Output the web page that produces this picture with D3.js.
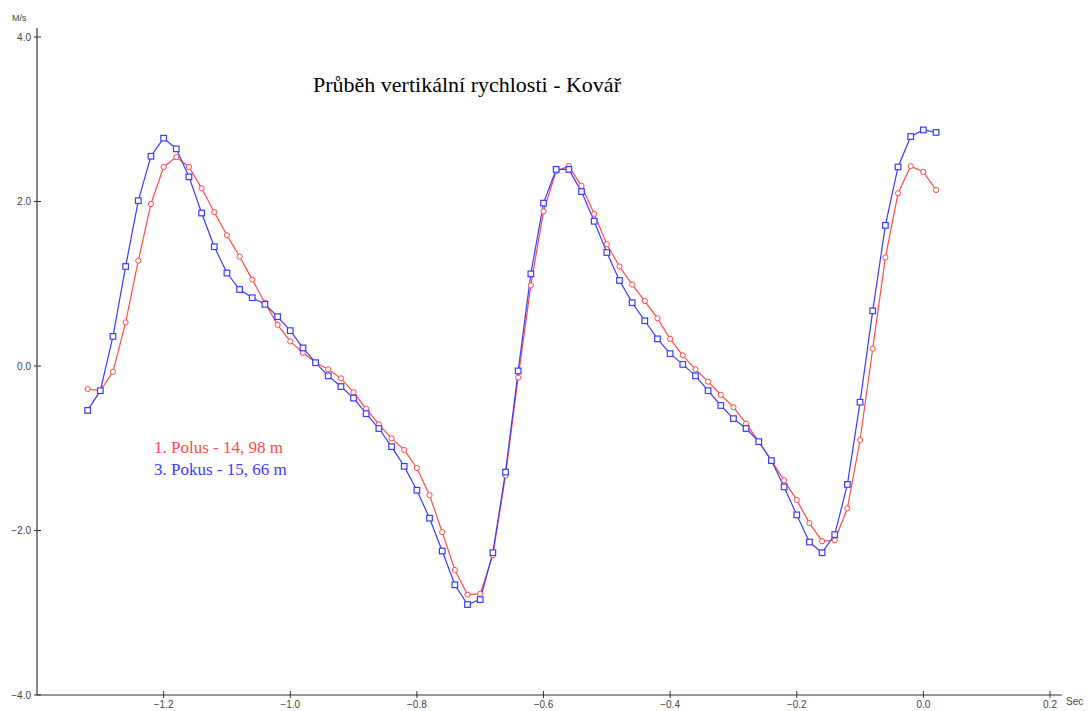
<!DOCTYPE html>
<html><head><meta charset="utf-8">
<script src="https://cdn.jsdelivr.net/npm/d3@7"></script>
<style>body{margin:0;background:#fff}svg{display:block}</style>
</head><body>
<svg id="c" width="1089" height="711"></svg>
<script>
const times = d3.range(69).map(i => +(-1.32 + i*0.02).toFixed(2));
const polus = [-0.28,-0.30,-0.07,0.53,1.28,1.97,2.42,2.54,2.42,2.16,1.87,1.59,1.33,1.05,0.77,0.50,0.30,0.16,0.04,-0.04,-0.15,-0.32,-0.52,-0.71,-0.88,-1.02,-1.24,-1.57,-2.02,-2.48,-2.78,-2.77,-2.30,-1.33,-0.14,0.98,1.88,2.37,2.43,2.19,1.85,1.48,1.21,0.99,0.79,0.58,0.33,0.13,-0.04,-0.19,-0.35,-0.50,-0.70,-0.92,-1.15,-1.39,-1.63,-1.91,-2.13,-2.12,-1.73,-0.90,0.21,1.32,2.10,2.43,2.36,2.14];
const pokus = [-0.54,-0.30,0.36,1.21,2.01,2.55,2.77,2.64,2.30,1.86,1.45,1.13,0.93,0.83,0.75,0.60,0.43,0.22,0.04,-0.12,-0.25,-0.39,-0.58,-0.76,-0.98,-1.22,-1.51,-1.85,-2.25,-2.66,-2.90,-2.84,-2.27,-1.29,-0.06,1.12,1.98,2.39,2.39,2.12,1.76,1.38,1.04,0.77,0.55,0.33,0.15,0.02,-0.12,-0.30,-0.48,-0.64,-0.76,-0.92,-1.15,-1.47,-1.81,-2.14,-2.27,-2.05,-1.44,-0.44,0.67,1.71,2.42,2.79,2.87,2.84];
const xTicks = [-1.2,-1.0,-0.8,-0.6,-0.4,-0.2,0.0,0.2];
const yTicks = [4.0,2.0,0.0,-2.0,-4.0];
const title = "Průběh vertikální rychlosti - Kovář";
const legendLabels = ["1. Polus - 14, 98 m","3. Pokus - 15, 66 m"];

const svg = d3.select("#c");
const x = d3.scaleLinear().domain([-1.4, 0.2]).range([37, 1050]);
const y = d3.scaleLinear().domain([-4, 4]).range([695, 37]);
const axisColor = "#333";

// axes lines
svg.append("line").attr("x1",37).attr("x2",37).attr("y1",28).attr("y2",695).attr("stroke",axisColor).attr("stroke-width",1.2);
svg.append("line").attr("x1",37).attr("x2",1062).attr("y1",695).attr("y2",695).attr("stroke",axisColor).attr("stroke-width",1.2);

const fontSans = "'Liberation Sans', Arial, sans-serif";
// y ticks
yTicks.forEach(v=>{
  svg.append("line").attr("x1",34).attr("x2",41).attr("y1",y(v)).attr("y2",y(v)).attr("stroke",axisColor);
  svg.append("text").attr("x",31).attr("y",y(v)+3.5).attr("text-anchor","end")
    .attr("font-family",fontSans).attr("font-size",10).attr("fill","#444").text(d3.format(".1f")(v));
});
xTicks.forEach(v=>{
  svg.append("line").attr("x1",x(v)).attr("x2",x(v)).attr("y1",691).attr("y2",698).attr("stroke",axisColor);
  svg.append("text").attr("x",x(v)).attr("y",708).attr("text-anchor","middle")
    .attr("font-family",fontSans).attr("font-size",10).attr("fill","#444").text(d3.format(".1f")(v));
});
svg.append("text").attr("x",12).attr("y",21).attr("font-family",fontSans).attr("font-size",9).attr("fill","#444").text("M/s");
svg.append("text").attr("x",1066).attr("y",705).attr("font-family",fontSans).attr("font-size",10).attr("fill","#444").text("Sec");

// title
svg.append("text").attr("x",467).attr("y",92).attr("text-anchor","middle")
  .attr("font-family","'Liberation Serif', 'Times New Roman', serif").attr("font-size",22).attr("fill","#000").text(title);

const red = "#ff4a4a", blue = "#3b3bff";
const line = d3.line().x((d,i)=>x(times[i])).y(d=>y(d));

svg.append("path").attr("d",line(polus)).attr("fill","none").attr("stroke",red).attr("stroke-width",1.2);
svg.append("path").attr("d",line(pokus)).attr("fill","none").attr("stroke",blue).attr("stroke-width",1.2);

svg.selectAll(".mr").data(polus).enter().append("circle")
  .attr("cx",(d,i)=>x(times[i])).attr("cy",d=>y(d)).attr("r",2.6)
  .attr("fill","#fff").attr("stroke",red).attr("stroke-width",1);
svg.selectAll(".mb").data(pokus).enter().append("rect")
  .attr("x",(d,i)=>x(times[i])-2.8).attr("y",d=>y(d)-2.8).attr("width",5.6).attr("height",5.6)
  .attr("fill","#fff").attr("stroke",blue).attr("stroke-width",1.2);

// legend
svg.append("text").attr("x",154).attr("y",453).attr("font-family","'Liberation Serif', 'Times New Roman', serif")
  .attr("font-size",17).attr("fill",red).text(legendLabels[0]);
svg.append("text").attr("x",154).attr("y",475).attr("font-family","'Liberation Serif', 'Times New Roman', serif")
  .attr("font-size",17).attr("fill",blue).text(legendLabels[1]);
</script>
</body></html>
